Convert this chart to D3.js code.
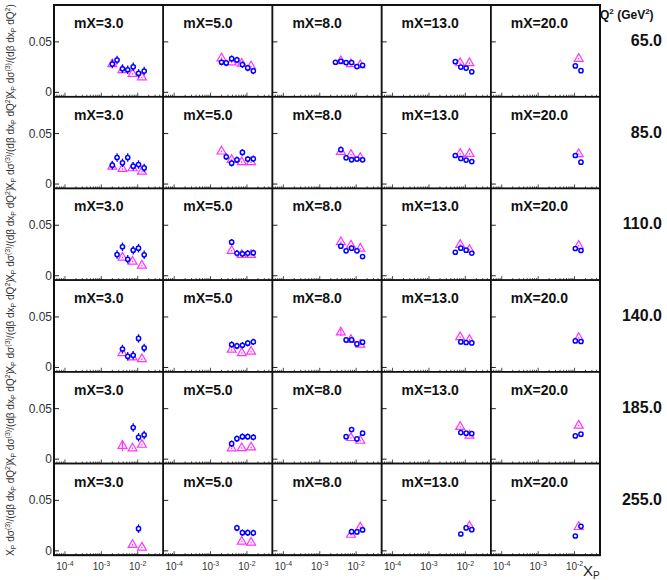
<!DOCTYPE html>
<html>
<head>
<meta charset="utf-8">
<script src="https://cdn.jsdelivr.net/npm/d3@7"></script>
<style>
  body { margin: 0; background: #fff; }
  svg { font-family: "Liberation Sans", Arial, sans-serif; }
</style>
</head>
<body>
<div id="app"></div>
<script>
/////////DATA/////////
const q2Labels = ["65.0", "85.0", "110.0", "140.0", "185.0", "255.0"];
const mxLabels = ["mX=3.0", "mX=5.0", "mX=8.0", "mX=13.0", "mX=20.0"];

// xP bins of the blue points and of the magenta triangles
const xpBins = [0.002, 0.0027, 0.0038, 0.0053, 0.0075, 0.0105, 0.015];
const xpTri = [0.002, 0.0038, 0.0072, 0.013];

// blue points, one row per mX, values per xpBins (null = no point)
const blue65 = [
  [0.028, 0.032, 0.0234, 0.0224, 0.0253, 0.0188, 0.0211],
  [0.0298, 0.0291, 0.0334, 0.0321, 0.0275, 0.0242, 0.0212],
  [null, 0.0298, 0.0308, 0.0295, 0.0295, 0.0255, 0.0268],
  [null, null, null, 0.0304, 0.025, 0.024, 0.0203],
  [null, null, null, null, null, 0.0262, 0.0215]
];
const blue85 = [
  [0.0187, 0.0263, 0.021, 0.0263, 0.0177, 0.0193, 0.016],
  [null, 0.027, 0.0207, 0.024, 0.0313, 0.0247, 0.025],
  [null, null, 0.034, 0.026, 0.024, 0.0247, 0.024],
  [null, null, null, 0.0283, 0.0253, 0.0237, 0.0223],
  [null, null, null, null, null, 0.0283, 0.0217]
];
const blue110 = [
  [null, 0.021, 0.0287, 0.0163, 0.0253, 0.0273, 0.0207],
  [null, null, 0.0333, 0.0223, 0.0217, 0.0223, 0.0227],
  [null, null, 0.0293, 0.0247, 0.0273, 0.0247, 0.019],
  [null, null, null, 0.0233, 0.0273, 0.0253, 0.0223],
  [null, null, null, null, null, 0.027, 0.025]
];
const blue140 = [
  [null, null, 0.0183, 0.011, 0.012, 0.0287, 0.0193],
  [null, null, 0.0227, 0.0213, 0.022, 0.024, 0.0253],
  [null, null, null, 0.0273, 0.0273, 0.0233, 0.025],
  [null, null, null, null, 0.0253, 0.0247, 0.0243],
  [null, null, null, null, null, 0.0263, 0.0257]
];
const blue185 = [
  [null, null, null, null, 0.0313, 0.0217, 0.024],
  [null, null, 0.0153, 0.0203, 0.0223, 0.0223, 0.0217],
  [null, null, null, 0.0223, 0.0293, 0.02, 0.0257],
  [null, null, null, null, 0.0263, 0.0257, 0.0253],
  [null, null, null, null, null, 0.023, 0.0247]
];
const blue255 = [
  [null, null, null, null, null, 0.022, null],
  [null, null, null, 0.0227, 0.018, 0.018, 0.0178],
  [null, null, null, null, 0.019, 0.0187, 0.0207],
  [null, null, null, null, 0.0167, 0.0227, 0.021],
  [null, null, null, null, null, 0.0147, 0.0243]
];

// magenta triangles, one row per mX, values per xpTri
const tri65 = [
  [0.028, 0.022, 0.0184, 0.0148],
  [0.0338, 0.0297, 0.0284, 0.0257],
  [null, 0.031, 0.028, 0.027],
  [null, null, 0.029, 0.029],
  [null, null, null, 0.0333]
];
const tri85 = [
  [0.0173, 0.015, 0.0157, 0.0123],
  [0.0323, 0.024, 0.0217, 0.0217],
  [null, 0.032, 0.029, 0.026],
  [null, null, 0.03, 0.03],
  [null, null, null, 0.0297]
];
const tri110 = [
  [null, 0.018, 0.014, 0.010],
  [null, 0.0247, 0.0207, 0.0207],
  [null, 0.0333, 0.03, 0.027],
  [null, null, 0.0307, 0.0257],
  [null, null, null, 0.0297]
];
const tri140 = [
  [null, 0.0143, 0.01, 0.0083],
  [null, 0.0177, 0.0143, 0.0157],
  [null, 0.0347, 0.0273, 0.0227],
  [null, null, 0.03, 0.0273],
  [null, null, null, 0.0293]
];
const tri185 = [
  [null, 0.0133, 0.0107, 0.0143],
  [null, 0.0107, 0.011, 0.0117],
  [null, null, 0.021, 0.0183],
  [null, null, 0.032, 0.0233],
  [null, null, null, 0.0333]
];
const tri255 = [
  [null, null, 0.0059, 0.0033],
  [null, null, 0.0092, 0.0082],
  [null, null, 0.016, 0.0233],
  [null, null, null, 0.0243],
  [null, null, null, 0.0237]
];

// error estimates: blue per mX column, triangles mostly small with a few big ones
const blueErr = [0.0042, 0.0032, 0.0022, 0.0015, 0.0012];
const triErr = 0.0008;
const triBigErr = [ // [row, col, bin, err]
  [4, 0, 1, 0.0055],
  [3, 2, 1, 0.0035]
];

const blueRows = [blue65, blue85, blue110, blue140, blue185, blue255];
const triRows = [tri65, tri85, tri110, tri140, tri185, tri255];

/////////LAYOUT/////////
const W = 667, H = 580;
const left0 = 54, top0 = 5;
const pw = 109.2, ph = 91.7;
const blueCol = "#0000ff", pinkCol = "#ff33ff";

const svg = d3.select('#app')
  .append('svg')
  .attr('width', W)
  .attr('height', H);

const x = d3.scaleLog().domain([5e-5, 0.05]).range([0, pw]);
const y = d3.scaleLinear().domain([-0.0043, 0.0865]).range([ph, 0]);

const xTicks = x.ticks();
const majors = [1e-4, 1e-3, 1e-2];

/////////PANELS/////////
q2Labels.forEach((q, r) => {
  mxLabels.forEach((m, c) => {
    const g = svg.append('g')
      .attr('transform', `translate(${left0 + c * pw},${top0 + r * ph})`);

    // x ticks (log, inside, upward)
    g.selectAll('line.xt')
      .data(xTicks)
      .join('line')
      .attr('x1', d => x(d)).attr('x2', d => x(d))
      .attr('y1', ph)
      .attr('y2', d => ph - (majors.some(v => Math.abs(v - d) / v < 1e-6) ? 4 : 2))
      .attr('stroke', '#222').attr('stroke-width', 0.8);

    // y ticks
    g.selectAll('line.yt')
      .data([0, 0.05])
      .join('line')
      .attr('x1', 0).attr('x2', 5)
      .attr('y1', d => y(d)).attr('y2', d => y(d))
      .attr('stroke', '#222').attr('stroke-width', 1);

    // panel frame
    g.append('rect')
      .attr('width', pw).attr('height', ph)
      .attr('fill', 'none')
      .attr('stroke', '#111').attr('stroke-width', 1.5);

    g.append('text')
      .attr('x', 20).attr('y', 23)
      .attr('font-size', 14).attr('font-weight', 'bold')
      .attr('fill', '#111')
      .text(m);

    // triangles
    const tri = triRows[r][c]
      .map((v, i) => ({ xp: xpTri[i], v, i }))
      .filter(d => d.v !== null);
    const errOf = d => {
      const b = triBigErr.find(e => e[0] === r && e[1] === c && e[2] === d.i);
      return b ? b[3] : triErr;
    };
    g.selectAll('line.te')
      .data(tri)
      .join('line')
      .attr('x1', d => x(d.xp)).attr('x2', d => x(d.xp))
      .attr('y1', d => y(d.v - errOf(d))).attr('y2', d => y(d.v + errOf(d)))
      .attr('stroke', pinkCol).attr('stroke-width', 1.2);
    g.selectAll('path.tri')
      .data(tri)
      .join('path')
      .attr('d', d3.symbol(d3.symbolTriangle, 34))
      .attr('transform', d => `translate(${x(d.xp)},${y(d.v)})`)
      .attr('fill', 'none')
      .attr('stroke', pinkCol).attr('stroke-width', 1.2);

    // blue points
    const pts = blueRows[r][c]
      .map((v, i) => ({ xp: xpBins[i], v }))
      .filter(d => d.v !== null);
    g.selectAll('line.be')
      .data(pts)
      .join('line')
      .attr('x1', d => x(d.xp)).attr('x2', d => x(d.xp))
      .attr('y1', d => y(d.v - blueErr[c])).attr('y2', d => y(d.v + blueErr[c]))
      .attr('stroke', blueCol).attr('stroke-width', 1.3);
    g.selectAll('circle')
      .data(pts)
      .join('circle')
      .attr('cx', d => x(d.xp)).attr('cy', d => y(d.v))
      .attr('r', 2.1)
      .attr('fill', '#fff')
      .attr('stroke', blueCol).attr('stroke-width', 1.5);
  });

  // y tick labels
  svg.selectAll(null)
    .data([0, 0.05])
    .join('text')
    .attr('x', left0 - 2)
    .attr('y', d => top0 + r * ph + y(d) + 4)
    .attr('text-anchor', 'end')
    .attr('font-size', 12)
    .attr('fill', '#333')
    .text(d => d === 0 ? '0' : '0.05');

  // y axis title
  const yt = svg.append('text')
    .attr('transform', `translate(14,${top0 + r * ph + ph / 2}) rotate(-90)`)
    .attr('text-anchor', 'middle')
    .attr('font-size', 10)
    .attr('fill', '#333');
  yt.append('tspan').text('X');
  yt.append('tspan').attr('font-size', 7).attr('dy', 2).text('P');
  yt.append('tspan').attr('dy', -2).text(' dσ');
  yt.append('tspan').attr('font-size', 7).attr('dy', -4).text('(3)');
  yt.append('tspan').attr('dy', 4).text('/(dβ dx');
  yt.append('tspan').attr('font-size', 7).attr('dy', 2).text('P');
  yt.append('tspan').attr('dy', -2).text(' dQ');
  yt.append('tspan').attr('font-size', 7).attr('dy', -4).text('2');
  yt.append('tspan').attr('dy', 4).text(')');

  // Q2 value on the right
  svg.append('text')
    .attr('x', 662)
    .attr('y', top0 + r * ph + 41)
    .attr('text-anchor', 'end')
    .attr('font-size', 16).attr('font-weight', 'bold')
    .attr('fill', '#111')
    .text(q);
});

// outer frame
svg.append('rect')
  .attr('x', left0).attr('y', top0)
  .attr('width', pw * 5).attr('height', ph * 6)
  .attr('fill', 'none')
  .attr('stroke', '#111').attr('stroke-width', 2);

/////////X TICK LABELS/////////
mxLabels.forEach((m, c) => {
  majors.forEach(v => {
    const t = svg.append('text')
      .attr('x', left0 + c * pw + x(v))
      .attr('y', top0 + 6 * ph + 15)
      .attr('text-anchor', 'middle')
      .attr('font-size', 10)
      .attr('fill', '#333');
    t.append('tspan').text('10');
    t.append('tspan').attr('font-size', 7).attr('dy', -4).text(String(Math.round(Math.log10(v))));
  });
});

// axis title X_P
const xt = svg.append('text')
  .attr('x', 583).attr('y', 576)
  .attr('font-size', 15)
  .attr('fill', '#222');
xt.append('tspan').text('X');
xt.append('tspan').attr('font-size', 10).attr('dy', 3).text('P');

// Q2 (GeV2) header
const qh = svg.append('text')
  .attr('x', 600).attr('y', 19)
  .attr('font-size', 12).attr('font-weight', 'bold')
  .attr('fill', '#111');
qh.append('tspan').text('Q');
qh.append('tspan').attr('font-size', 8).attr('dy', -5).text('2');
qh.append('tspan').attr('dy', 5).text(' (GeV');
qh.append('tspan').attr('font-size', 8).attr('dy', -5).text('2');
qh.append('tspan').attr('dy', 5).text(')');
</script>
</body>
</html>
